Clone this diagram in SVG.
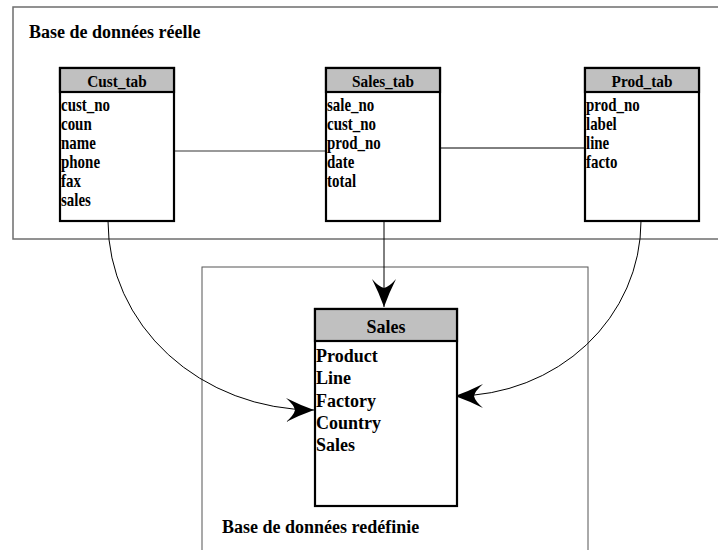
<svg xmlns="http://www.w3.org/2000/svg" width="718" height="550" viewBox="0 0 718 550">
<style>
text{font-family:"Liberation Serif","Times New Roman",serif;font-weight:bold;fill:#000}
.title{font-size:18px}
.hdr{font-size:17px;text-anchor:middle}
.fld{font-size:18px}
.big{font-size:18px}
.box{fill:#fff;stroke:#000;stroke-width:2.2}
.head{fill:#c0c0c0;stroke:#000;stroke-width:2.2}
.con{fill:none;stroke:#000;stroke-width:1}
</style>
<defs>
<marker id="ah" markerUnits="userSpaceOnUse" orient="auto" overflow="visible" refX="0" refY="0" markerWidth="30" markerHeight="30">
<path d="M0,0 Q-14,-5 -28,-12 Q-20,-5 -19,0 Q-20,5 -28,12 Q-14,5 0,0 Z" fill="#000"/>
</marker>
</defs>
<rect x="13" y="7" width="720" height="232" fill="none" stroke="#6e6e6e" stroke-width="1.5"/>
<text class="title" x="29" y="38">Base de données réelle</text>
<rect x="202" y="267" width="386" height="300" fill="none" stroke="#555" stroke-width="1"/>
<text class="big" x="222" y="533">Base de données redéfinie</text>
<g id="connectors">
<line x1="174" y1="151" x2="326" y2="151" stroke="#777" stroke-width="1.5"/>
<line x1="440" y1="148" x2="585" y2="148" stroke="#000" stroke-width="1"/>
<line class="con" x1="384" y1="221" x2="384" y2="307" marker-end="url(#ah)"/>
<path class="con" d="M108,221 A206,189 0 0 0 314,410" marker-end="url(#ah)"/>
<path class="con" d="M641,221 A186,175 0 0 1 455,396" marker-end="url(#ah)"/>
</g>
<g id="cust_tab">
<rect class="box" x="60" y="68" width="114" height="153"/>
<rect class="head" x="60" y="68" width="114" height="24"/>
<g transform="translate(117 0) scale(0.9 1)"><text class="hdr" x="0" y="87">Cust_tab</text></g>
<g class="fld" transform="translate(61 0) scale(0.83 1)">
<text class="fld" x="0" y="111">cust_no</text>
<text class="fld" x="0" y="130">coun</text>
<text class="fld" x="0" y="149">name</text>
<text class="fld" x="0" y="168">phone</text>
<text class="fld" x="0" y="187">fax</text>
<text class="fld" x="0" y="206">sales</text>
</g>
</g>
<g id="sales_tab">
<rect class="box" x="326" y="68" width="114" height="153"/>
<rect class="head" x="326" y="68" width="114" height="24"/>
<g transform="translate(383 0) scale(0.9 1)"><text class="hdr" x="0" y="87">Sales_tab</text></g>
<g transform="translate(327 0) scale(0.83 1)">
<text class="fld" x="0" y="111">sale_no</text>
<text class="fld" x="0" y="130">cust_no</text>
<text class="fld" x="0" y="149">prod_no</text>
<text class="fld" x="0" y="168">date</text>
<text class="fld" x="0" y="187">total</text>
</g>
</g>
<g id="prod_tab">
<rect class="box" x="585" y="68" width="114" height="153"/>
<rect class="head" x="585" y="68" width="114" height="24"/>
<g transform="translate(642 0) scale(0.9 1)"><text class="hdr" x="0" y="87">Prod_tab</text></g>
<g transform="translate(586 0) scale(0.83 1)">
<text class="fld" x="0" y="111">prod_no</text>
<text class="fld" x="0" y="130">label</text>
<text class="fld" x="0" y="149">line</text>
<text class="fld" x="0" y="168">facto</text>
</g>
</g>
<g id="sales">
<rect class="box" x="315" y="309" width="142" height="197"/>
<rect class="head" x="315" y="309" width="142" height="32"/>
<text class="big" x="386" y="333" text-anchor="middle">Sales</text>
<text class="big" x="316" y="362">Product</text>
<text class="big" x="316" y="384">Line</text>
<text class="big" x="316" y="407">Factory</text>
<text class="big" x="316" y="429">Country</text>
<text class="big" x="316" y="451">Sales</text>
</g>
</svg>
